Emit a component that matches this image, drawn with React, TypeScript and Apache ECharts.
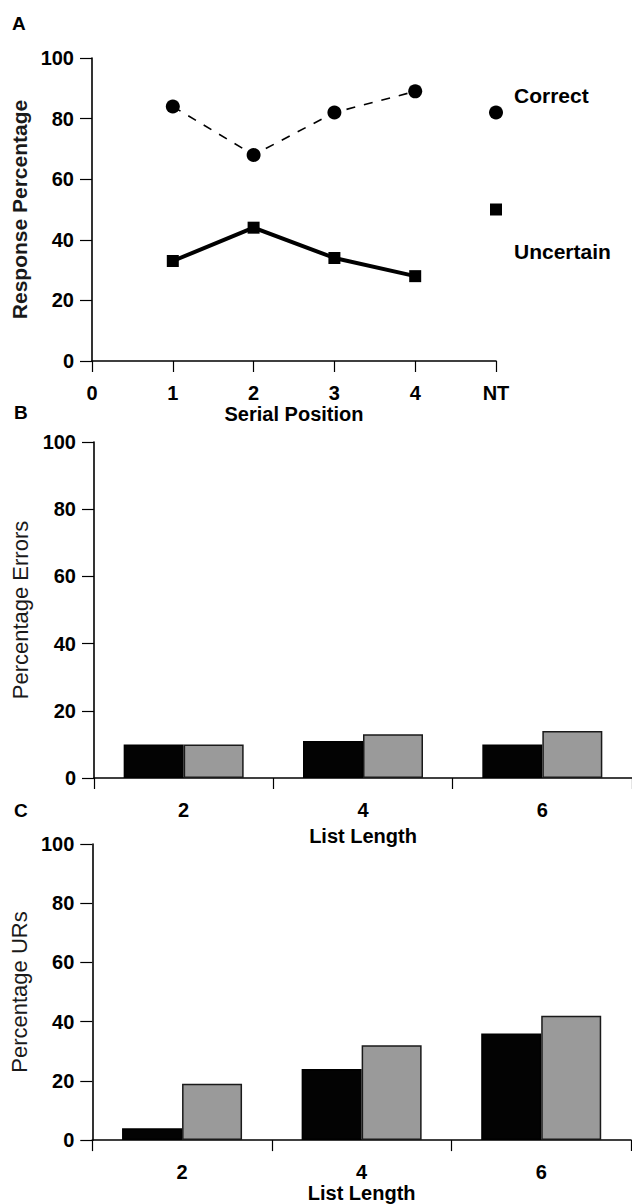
import React, { useEffect, useRef } from 'react';
import * as echarts from 'echarts';

// ---- data ----
const serialTickLabels = ['0', '1', '2', '3', '4', 'NT'];
const serialPositions = [1, 2, 3, 4];
const correctValues = [84, 68, 82, 89];
const uncertainValues = [33, 44, 34, 28];
const ntPosition = 5;
const ntCorrect = 82;
const ntUncertain = 50;

const listLengths = ['2', '4', '6'];
const errorsBlack = [10, 11, 10];
const errorsGrey = [10, 13, 14];
const ursBlack = [4, 24, 36];
const ursGrey = [19, 32, 42];

const yTicks = [0, 20, 40, 60, 80, 100];

const FONT = '"Liberation Sans", Arial, Helvetica, sans-serif';
const INK = '#000';

const tickLabel = { color: INK, fontFamily: FONT, fontWeight: 'bold' as const, fontSize: 20 };

function yAxisCfg(gridIndex: number, name: string, weight: 'bold' | 'normal', size: number) {
  return {
    type: 'value',
    gridIndex,
    min: yTicks[0],
    max: yTicks[yTicks.length - 1],
    interval: 20,
    axisLine: { show: true, lineStyle: { color: INK, width: 1.6 } },
    axisTick: { show: true, length: 12, lineStyle: { color: INK, width: 1.2 } },
    axisLabel: { ...tickLabel, margin: 18 },
    splitLine: { show: false },
    name,
    nameLocation: 'middle',
    nameGap: 60,
    nameRotate: 90,
    nameTextStyle: { color: '#1a1a1a', fontFamily: FONT, fontWeight: weight, fontSize: size },
  };
}

function catAxisCfg(gridIndex: number, nameGap: number) {
  return {
    type: 'category',
    gridIndex,
    data: listLengths,
    boundaryGap: true,
    axisLine: { show: true, lineStyle: { color: INK, width: 1.6 } },
    axisTick: { show: true, length: 11, alignWithLabel: false, lineStyle: { color: INK, width: 1.2 } },
    axisLabel: { ...tickLabel, margin: 22 },
    splitLine: { show: false },
    name: 'List Length',
    nameLocation: 'middle',
    nameGap,
    nameTextStyle: { color: INK, fontFamily: FONT, fontWeight: 'bold', fontSize: 20 },
  };
}

function barSeries(axisIndex: number, values: number[], color: string, border: string) {
  return {
    type: 'bar',
    xAxisIndex: axisIndex,
    yAxisIndex: axisIndex,
    data: values,
    barWidth: 60,
    barGap: '0%',
    itemStyle: { color, borderColor: border, borderWidth: 1.5 },
  };
}

export default function App() {
  const ref = useRef<HTMLDivElement>(null);

  useEffect(() => {
    if (!ref.current) return;
    const chart = echarts.init(ref.current, undefined, { renderer: 'svg' });

    const option = {
      animation: false,
      backgroundColor: '#fff',
      textStyle: { fontFamily: FONT },
      grid: [
        { left: 92, top: 58, width: 404, height: 303 },
        { left: 94, top: 442, width: 538, height: 336 },
        { left: 92, top: 844, width: 539, height: 300 },
      ],
      xAxis: [
        {
          type: 'value',
          gridIndex: 0,
          min: 0,
          max: ntPosition,
          interval: 1,
          axisLine: { show: true, lineStyle: { color: INK, width: 1.6 } },
          axisTick: { show: true, length: 11, lineStyle: { color: INK, width: 1.2 } },
          axisLabel: {
            ...tickLabel,
            margin: 22,
            formatter: (v: number) => serialTickLabels[Math.round(v)] ?? '',
          },
          splitLine: { show: false },
          name: 'Serial Position',
          nameLocation: 'middle',
          nameGap: 42,
          nameTextStyle: { color: INK, fontFamily: FONT, fontWeight: 'bold', fontSize: 20 },
        },
        catAxisCfg(1, 48),
        catAxisCfg(2, 38),
      ],
      yAxis: [
        yAxisCfg(0, 'Response Percentage', 'bold', 21),
        yAxisCfg(1, 'Percentage Errors', 'normal', 22),
        yAxisCfg(2, 'Percentage URs', 'normal', 22),
      ],
      graphic: [
        { type: 'text', left: 12, top: 14, style: { text: 'A', fontFamily: FONT, fontWeight: 'bold', fontSize: 19, fill: INK } },
        { type: 'text', left: 14, top: 403, style: { text: 'B', fontFamily: FONT, fontWeight: 'bold', fontSize: 19, fill: INK } },
        { type: 'text', left: 14, top: 801, style: { text: 'C', fontFamily: FONT, fontWeight: 'bold', fontSize: 19, fill: INK } },
      ],
      series: [
        {
          name: 'Correct',
          type: 'line',
          xAxisIndex: 0,
          yAxisIndex: 0,
          data: serialPositions.map((p, i) => [p, correctValues[i]]),
          symbol: 'circle',
          symbolSize: 14,
          itemStyle: { color: INK, opacity: 1 },
          lineStyle: { color: INK, width: 1.6, type: [9, 9] },
          clip: false,
        },
        {
          name: 'Uncertain',
          type: 'line',
          xAxisIndex: 0,
          yAxisIndex: 0,
          data: serialPositions.map((p, i) => [p, uncertainValues[i]]),
          symbol: 'rect',
          symbolSize: 12,
          itemStyle: { color: INK, opacity: 1 },
          lineStyle: { color: INK, width: 4 },
          clip: false,
        },
        {
          name: 'Correct NT',
          type: 'scatter',
          xAxisIndex: 0,
          yAxisIndex: 0,
          data: [[ntPosition, ntCorrect]],
          symbol: 'circle',
          symbolSize: 14,
          itemStyle: { color: INK, opacity: 1 },
          clip: false,
          label: {
            show: true,
            formatter: 'Correct',
            position: 'right',
            distance: 5,
            offset: [6, -17],
            color: INK,
            fontFamily: FONT,
            fontWeight: 'bold',
            fontSize: 21,
          },
        },
        {
          name: 'Uncertain NT',
          type: 'scatter',
          xAxisIndex: 0,
          yAxisIndex: 0,
          data: [[ntPosition, ntUncertain]],
          symbol: 'rect',
          symbolSize: 12,
          itemStyle: { color: INK, opacity: 1 },
          clip: false,
          label: {
            show: true,
            formatter: 'Uncertain',
            position: 'right',
            distance: 5,
            offset: [7, 42],
            color: INK,
            fontFamily: FONT,
            fontWeight: 'bold',
            fontSize: 21,
          },
        },
        barSeries(1, errorsBlack, '#030303', '#000'),
        barSeries(1, errorsGrey, '#9a9a9a', '#1a1a1a'),
        barSeries(2, ursBlack, '#030303', '#000'),
        barSeries(2, ursGrey, '#9a9a9a', '#1a1a1a'),
      ],
    };

    chart.setOption(option as any);
    return () => chart.dispose();
  }, []);

  return (
    <div
      ref={ref}
      style={{ position: 'fixed', left: 0, top: 0, width: 632, height: 1204, background: '#fff' }}
    />
  );
}
